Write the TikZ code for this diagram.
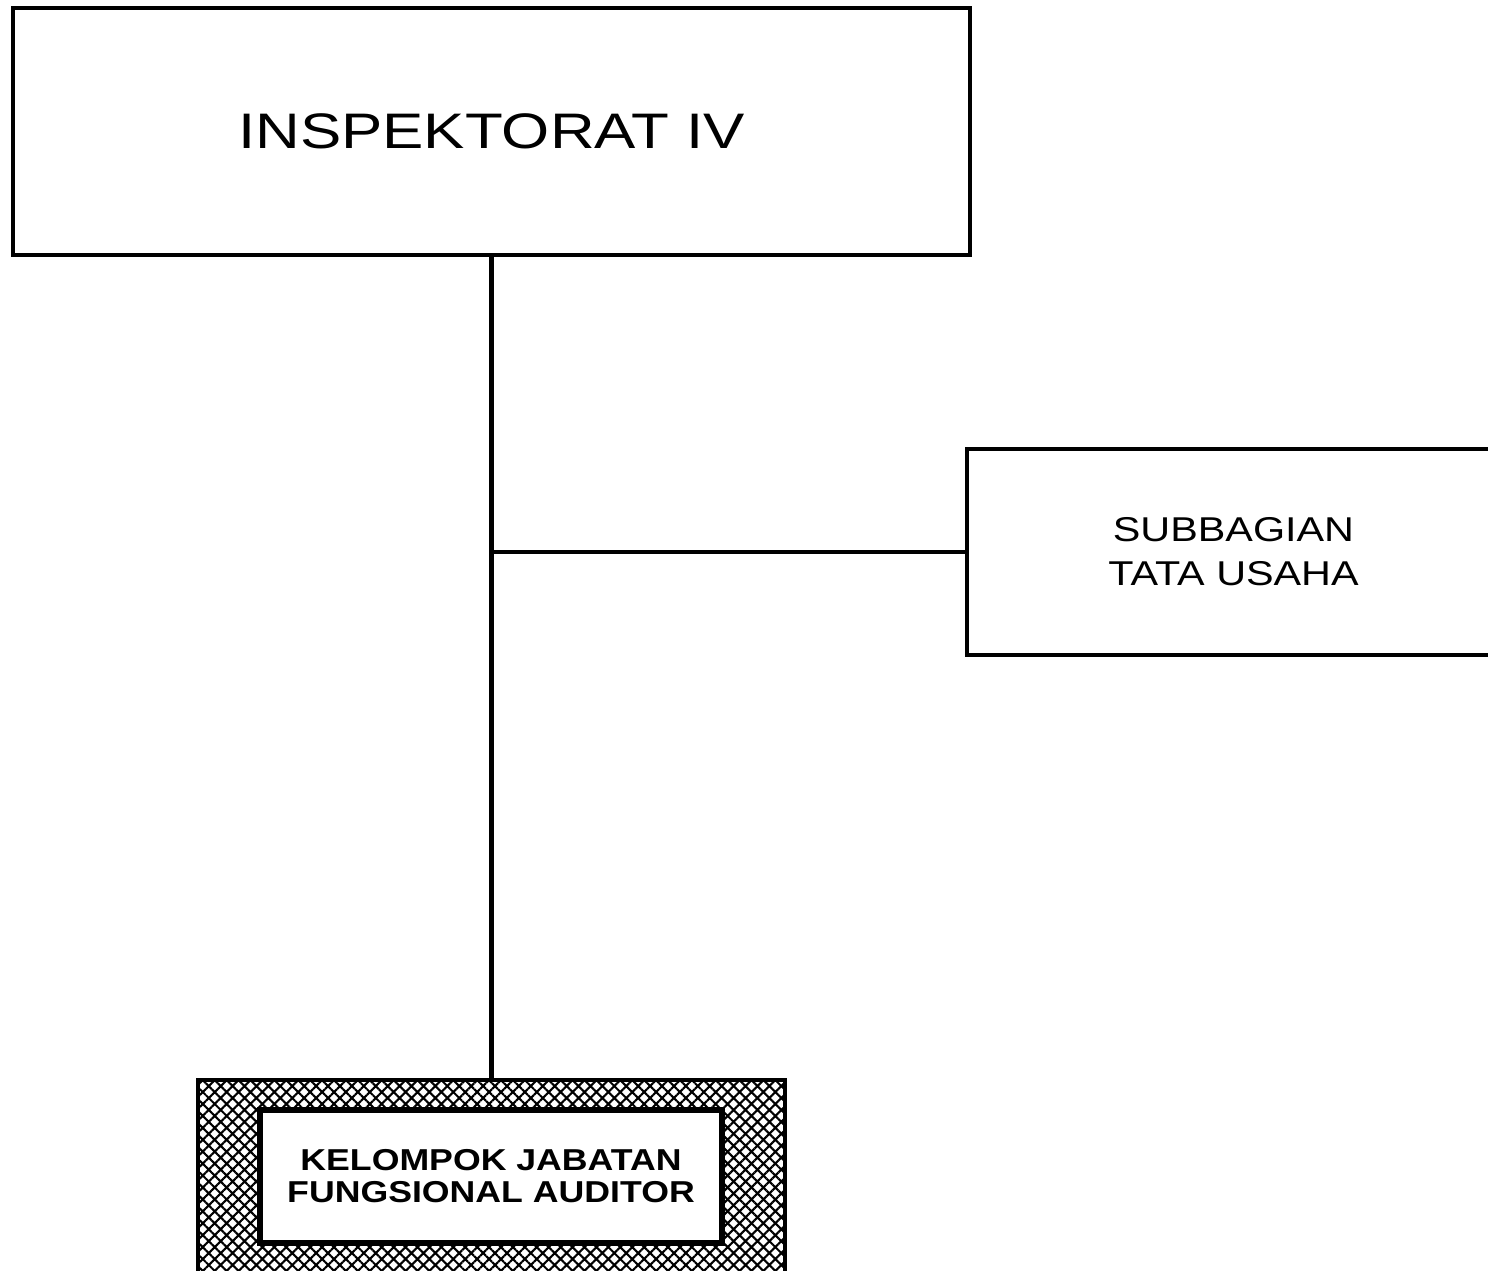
\documentclass[tikz,border=0pt]{standalone}
\usepackage{fontspec}
\setmainfont{Liberation Sans}
\newfontfamily\widefont[FakeStretch=1.24]{Liberation Sans}
\newfontfamily\midfont[FakeStretch=1.2]{Liberation Sans}
\newfontfamily\kfafont[FakeStretch=1.18]{Liberation Sans}
\usepackage{tikz}
\usetikzlibrary{positioning, patterns.meta}

\begin{document}
\begin{tikzpicture}[
    unitbox/.style={draw=black, line width=1.3pt, fill=white, align=center,
      inner sep=0pt},
    link/.style={draw=black, line width=1.2pt}
  ]
  \useasboundingbox (0, 0) rectangle (14.88, -12.71);

  % Inspektorat box (top)
  \node[unitbox, minimum width=9.57cm, minimum height=2.47cm,
        font=\widefont\fontsize{14.2}{16}\selectfont]
    (insp) at (4.915, -1.315) {INSPEKTORAT IV};

  % Subbagian box (right, runs off the page)
  \node[unitbox, minimum width=5.33cm, minimum height=2.06cm,
        font=\midfont\fontsize{9.8}{12.5}\selectfont]
    (tu) at (12.335, -5.52) {SUBBAGIAN\\TATA USAHA};

  % Kelompok box (bottom, hatched frame)
  \node[draw=black, line width=1.2pt, inner sep=0pt,
        pattern={Hatch[angle=45, distance=2.4pt, line width=0.6pt]},
        minimum width=5.87cm, minimum height=2.0cm]
    (kfa) at (4.915, -11.80) {};
  \node[unitbox, line width=1.5pt, minimum width=4.62cm, minimum height=1.33cm,
        font=\kfafont\bfseries\fontsize{8.6}{9.1}\selectfont]
    (kfaIn) at (4.91, -11.765) {KELOMPOK JABATAN\\FUNGSIONAL AUDITOR};

  % Lines
  \coordinate (junc) at (insp.south |- tu.west);
  \draw[link] (insp.south) -- (kfa.north);
  \draw[link] (junc) -- (tu.west);
\end{tikzpicture}
\end{document}
